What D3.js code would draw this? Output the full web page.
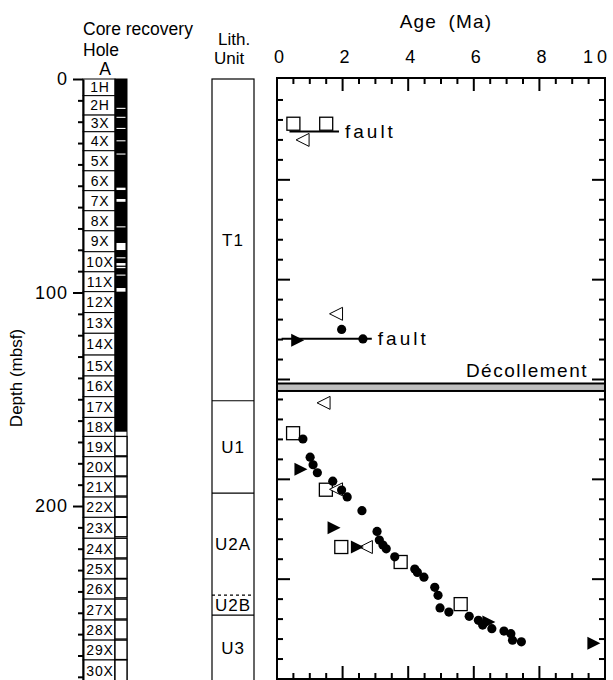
<!DOCTYPE html>
<html><head><meta charset="utf-8">
<script src="https://cdn.jsdelivr.net/npm/d3@7"></script>
<style>
body{margin:0;background:#fff}
svg{display:block}
text{font-family:"Liberation Sans",Arial,Helvetica,sans-serif;fill:#000}
</style>
</head><body>
<svg id="chart" width="613" height="680"></svg>
<script>
// ---------- core column ----------
const coreNames = ["1H","2H","3X","4X","5X","6X","7X","8X","9X","10X","11X","12X","13X","14X","15X",
  "16X","17X","18X","19X","20X","21X","22X","23X","24X","25X","26X","27X","28X","29X","30X"];
const coreTops = [0,7.8,16.9,24.7,33.6,43.0,52.3,61.7,71.1,80.9,90.3,99.6,109.4,119.1,129.3,
  139.1,148.8,158.5,167.4,176.9,186.3,195.8,205.3,215.1,224.8,234.2,243.6,253.4,262.8,272.1];
const holeBase = 282.5;
// continuously recovered interval (black) and the voids inside it (m)
const solidRecovery = [0, 165.2];
const recoveryGaps = [[13.5,14.0],[17.7,18.2],[22.9,23.4],[28.7,29.2],[34.9,35.4],[50.9,52.0],
  [56.2,57.5],[69.0,69.5],[76.8,80.1],[83.5,84.0],[86.2,87.4],[88.0,88.6],[91.6,92.1],[97.9,99.6]];
// recovered intervals drawn open, cores 19X-30X (m)
const openRecovery = [[167.4,176.5],[176.9,185.9],[186.3,195.3],[195.8,205.0],[205.3,214.4],
  [215.1,224.3],[224.8,233.9],[234.2,243.0],[243.6,252.9],[253.4,262.3],[262.8,271.9],[272.1,282.5]];
const depthTickLabels = [0, 100, 200];

// ---------- lithologic units ----------
const lithUnits = ["T1","U1","U2A","U2B","U3"];
const lithTops = [0, 150.7, 194.0, 241.7, 251.1];
const lithDashedTop = [false, false, false, true, false];

// ---------- age-depth data (age Ma, depth mbsf) ----------
const squareAge   = [0.50, 1.50, 0.49, 1.49, 1.96, 3.77, 5.60];
const squareDepth = [21.9, 21.9, 176.9, 205.2, 233.9, 241.4, 262.5];
const openTriAge   = [0.78, 1.80, 1.42, 1.80, 2.71];
const openTriDepth = [30.0, 117.1, 161.7, 205.0, 233.9];
const fillTriAge   = [0.63, 0.73, 1.74, 2.45, 6.46, 9.66];
const fillTriDepth = [130.4, 195.0, 224.2, 233.9, 271.4, 282.1];
const circleAge   = [1.97, 2.62, 0.79, 1.01, 1.10, 1.23, 1.70, 1.97, 2.14, 2.59, 3.05, 3.12, 3.23, 3.33,
  3.59, 4.20, 4.28, 4.48, 4.81, 4.91, 4.97, 5.24, 5.86, 6.14, 6.27, 6.55, 6.92, 7.13, 7.18, 7.45];
const circleDepth = [124.9, 129.7, 179.8, 188.9, 192.7, 196.7, 200.9, 205.4, 208.8, 215.7, 226.1, 230.4, 232.9, 234.8,
  238.8, 244.9, 246.6, 249.0, 254.1, 258.1, 264.4, 266.5, 268.6, 270.6, 273.0, 274.8, 276.0, 277.3, 280.6, 281.4];
// faults: age span and depth
const faultFrom  = [0.38, 0.14];
const faultTo    = [1.89, 2.89];
const faultDepth = [25.85, 129.65];
const decollementTop = 152.0, decollementBase = 155.75;
const ageTickLabels = [0, 2, 4, 6, 8, 10];

const svg = d3.select("#chart");
const ink = "#000";

// ================= core recovery column =================
const coreY = d3.scaleLinear().domain([0, 282]).range([79, 681.1]);
const boxL = 83, boxR = 115, recR = 127;

const cores = coreNames.map((n, i) => ({name: n, top: coreTops[i], base: i < coreTops.length - 1 ? coreTops[i + 1] : holeBase}));
const gCore = svg.append("g");
gCore.selectAll("rect.core").data(cores).join("rect")
  .attr("x", boxL).attr("width", boxR - boxL)
  .attr("y", d => coreY(d.top)).attr("height", d => coreY(d.base) - coreY(d.top))
  .attr("fill", "#fff").attr("stroke", ink).attr("stroke-width", 1);
gCore.selectAll("text.core").data(cores).join("text")
  .attr("x", (boxL + boxR) / 2 + 1).attr("y", d => (coreY(d.top) + coreY(d.base)) / 2 + 5)
  .attr("text-anchor", "middle").attr("font-size", 14).attr("letter-spacing", 0.8)
  .text(d => d.name);

// recovery strip
gCore.append("rect").attr("x", boxR).attr("width", recR - boxR)
  .attr("y", coreY(0)).attr("height", coreY(282) - coreY(0))
  .attr("fill", "#fff").attr("stroke", ink).attr("stroke-width", 1);
gCore.selectAll("rect.open").data(openRecovery).join("rect")
  .attr("x", boxR).attr("width", recR - boxR)
  .attr("y", d => coreY(d[0])).attr("height", d => coreY(d[1]) - coreY(d[0]))
  .attr("fill", "#fff").attr("stroke", ink).attr("stroke-width", 1.3);
gCore.append("rect").attr("x", boxR).attr("width", recR - boxR)
  .attr("y", coreY(solidRecovery[0])).attr("height", coreY(solidRecovery[1]) - coreY(solidRecovery[0]))
  .attr("fill", ink);
gCore.selectAll("rect.gap").data(recoveryGaps).join("rect")
  .attr("x", boxR + 1.5).attr("width", recR - boxR - 3)
  .attr("y", d => coreY(d[0])).attr("height", d => Math.max(1, coreY(d[1]) - coreY(d[0])))
  .attr("fill", "#fff");

// depth axis
const minorDepth = d3.range(0, 281, 10).filter(v => !depthTickLabels.includes(v));
gCore.append("g").attr("transform", `translate(${boxL},0)`)
  .call(d3.axisLeft(coreY).tickValues(minorDepth).tickSize(5).tickFormat("").tickSizeOuter(0))
  .call(g => g.select(".domain").remove())
  .call(g => g.selectAll("line").attr("stroke", ink).attr("stroke-width", 2));
gCore.append("g").attr("transform", `translate(${boxL},0)`)
  .call(d3.axisLeft(coreY).tickValues(depthTickLabels).tickSize(10).tickPadding(5).tickSizeOuter(0))
  .call(g => g.select(".domain").attr("stroke", ink).attr("stroke-width", 2))
  .call(g => g.selectAll("line").attr("stroke", ink).attr("stroke-width", 2))
  .call(g => g.selectAll("text").attr("font-size", 18).attr("font-family", null).attr("letter-spacing", 1));

svg.append("text").attr("transform", `translate(22,${378}) rotate(-90)`)
  .attr("text-anchor", "middle").attr("font-size", 17).text("Depth (mbsf)");
svg.append("text").attr("x", 83).attr("y", 35).attr("font-size", 17.5).text("Core recovery");
svg.append("text").attr("x", 83).attr("y", 56).attr("font-size", 17.5).text("Hole");
svg.append("text").attr("x", 105).attr("y", 75).attr("font-size", 17.5).attr("text-anchor", "middle").text("A");

// ================= lithologic unit column =================
const lithL = 212, lithR = 254;
const units = lithUnits.map((u, i) => ({name: u, top: lithTops[i], base: i < lithTops.length - 1 ? lithTops[i + 1] : 282, dashed: lithDashedTop[i]}));
const gLith = svg.append("g");
gLith.append("rect").attr("x", lithL).attr("width", lithR - lithL)
  .attr("y", coreY(0)).attr("height", coreY(282.5) - coreY(0))
  .attr("fill", "#fff").attr("stroke", ink).attr("stroke-width", 1.2);
gLith.selectAll("line.b").data(units.slice(1)).join("line")
  .attr("x1", lithL).attr("x2", lithR)
  .attr("y1", d => coreY(d.top)).attr("y2", d => coreY(d.top))
  .attr("stroke", ink).attr("stroke-width", 1.2)
  .attr("stroke-dasharray", d => d.dashed ? "3,3" : null);
gLith.selectAll("text.u").data(units).join("text")
  .attr("x", (lithL + lithR) / 2).attr("y", d => (coreY(d.top) + coreY(d.base)) / 2 + 6)
  .attr("text-anchor", "middle").attr("font-size", 17).attr("letter-spacing", 1)
  .text(d => d.name);
svg.append("text").attr("x", 218).attr("y", 45).attr("font-size", 17).text("Lith.");
svg.append("text").attr("x", 214).attr("y", 64).attr("font-size", 17).text("Unit");

// ================= age-depth plot =================
const x = d3.scaleLinear().domain([0, 10]).range([277, 605]);
const y = d3.scaleLinear().domain([-1, 300]).range([78, 679]);
const gP = svg.append("g");
const [x0, x1] = x.range(), [y0, y1] = y.range();

// age ticks, top and bottom (inward)
const ageTicks = d3.range(0.5, 10, 0.5);
const isMajorAge = v => Math.abs(v / 2 - Math.round(v / 2)) < 1e-6;
gP.selectAll("line.tt").data(ageTicks).join("line")
  .attr("x1", d => x(d)).attr("x2", d => x(d))
  .attr("y1", y0).attr("y2", d => y0 + (isMajorAge(d) ? 13 : 6))
  .attr("stroke", ink).attr("stroke-width", 2);
gP.selectAll("line.tb").data(ageTicks).join("line")
  .attr("x1", d => x(d)).attr("x2", d => x(d))
  .attr("y1", y1).attr("y2", d => y1 - (isMajorAge(d) ? 13 : 6))
  .attr("stroke", ink).attr("stroke-width", 2);
// depth ticks, left and right (inward)
const depthTicks = d3.range(10, 300, 10);
const isMajorDepth = v => v % 50 === 0;
gP.selectAll("line.tl").data(depthTicks).join("line")
  .attr("y1", d => y(d)).attr("y2", d => y(d))
  .attr("x1", x0).attr("x2", d => x0 + (isMajorDepth(d) ? 13 : 6))
  .attr("stroke", ink).attr("stroke-width", 2);
gP.selectAll("line.tr").data(depthTicks).join("line")
  .attr("y1", d => y(d)).attr("y2", d => y(d))
  .attr("x1", x1).attr("x2", d => x1 - (isMajorDepth(d) ? 13 : 6))
  .attr("stroke", ink).attr("stroke-width", 2);

// frame
gP.append("rect").attr("x", x0).attr("y", y0).attr("width", x1 - x0).attr("height", y1 - y0)
  .attr("fill", "none").attr("stroke", ink).attr("stroke-width", 2);

// age labels (last one kept inside the page edge)
const lastAge = ageTickLabels[ageTickLabels.length - 1];
gP.selectAll("text.al").data(ageTickLabels).join("text")
  .attr("x", d => d === lastAge ? x(d) + 6 : x(d) + 2).attr("y", 63)
  .attr("text-anchor", d => d === lastAge ? "end" : "middle")
  .attr("font-size", 18).attr("letter-spacing", d => d === lastAge ? 4 : 0)
  .text(d => d);
gP.append("text").attr("x", 446).attr("y", 28).attr("text-anchor", "middle")
  .attr("font-size", 19).attr("letter-spacing", 1.2).attr("word-spacing", 5).text("Age (Ma)");

// décollement zone
gP.append("rect").attr("x", x0).attr("width", x1 - x0)
  .attr("y", y(decollementTop)).attr("height", y(decollementBase) - y(decollementTop))
  .attr("fill", "#bebebe").attr("stroke", ink).attr("stroke-width", 2);
gP.append("text").attr("x", 588).attr("y", 377).attr("text-anchor", "end")
  .attr("font-size", 19).attr("letter-spacing", 1.5).text("Décollement");

// faults
const faults = faultDepth.map((d, i) => ({from: faultFrom[i], to: faultTo[i], depth: d}));
gP.selectAll("line.f").data(faults).join("line")
  .attr("x1", d => x(d.from)).attr("x2", d => x(d.to))
  .attr("y1", d => y(d.depth)).attr("y2", d => y(d.depth))
  .attr("stroke", ink).attr("stroke-width", 2);
gP.selectAll("text.f").data(faults).join("text")
  .attr("x", d => x(d.to) + 6).attr("y", d => y(d.depth) + 6)
  .attr("font-size", 19).attr("letter-spacing", 3).text("fault");

// symbols
const pts = (a, b) => a.map((v, i) => ({age: v, depth: b[i]}));
const S = 13;
gP.selectAll("rect.sq").data(pts(squareAge, squareDepth)).join("rect")
  .attr("x", d => x(d.age) - S / 2).attr("y", d => y(d.depth) - S / 2)
  .attr("width", S).attr("height", S)
  .attr("fill", "#fff").attr("stroke", ink).attr("stroke-width", 1.3);
const triLeft  = `M${S/2},${-S/2}L${-S/2},0L${S/2},${S/2}Z`;
const triRight = `M${-S/2},${-S/2}L${S/2},0L${-S/2},${S/2}Z`;
gP.selectAll("path.ot").data(pts(openTriAge, openTriDepth)).join("path")
  .attr("transform", d => `translate(${x(d.age)},${y(d.depth)})`)
  .attr("d", triLeft).attr("fill", "#fff").attr("stroke", ink).attr("stroke-width", 1);
gP.selectAll("path.ft").data(pts(fillTriAge, fillTriDepth)).join("path")
  .attr("transform", d => `translate(${x(d.age)},${y(d.depth)})`)
  .attr("d", triRight).attr("fill", ink);
gP.selectAll("circle.c").data(pts(circleAge, circleDepth)).join("circle")
  .attr("cx", d => x(d.age)).attr("cy", d => y(d.depth)).attr("r", 4.6)
  .attr("fill", ink);
</script>
</body></html>
